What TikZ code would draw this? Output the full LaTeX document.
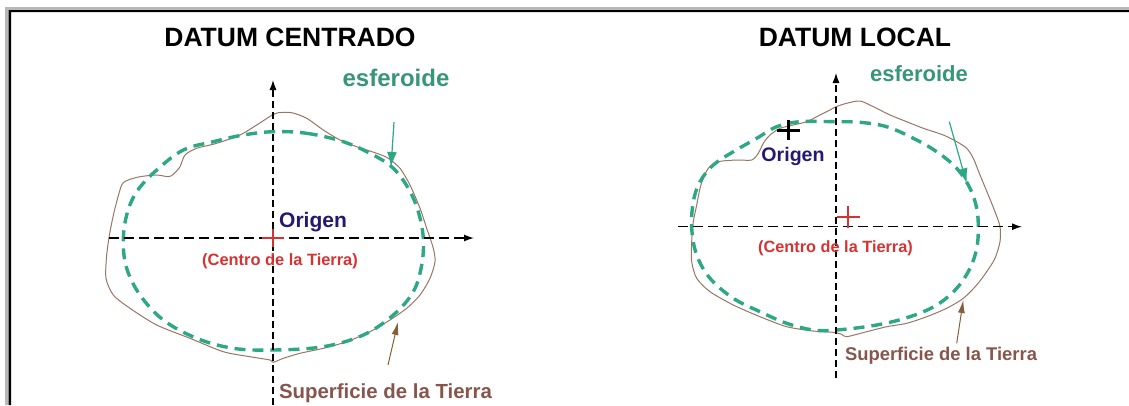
\documentclass[tikz,border=0pt]{standalone}
\usepackage{fontspec}
\setmainfont{Liberation Sans}
\usetikzlibrary{arrows.meta}
\definecolor{esfcol}{RGB}{45,168,132}
\definecolor{esftxt}{RGB}{55,150,118}
\definecolor{surfcol}{RGB}{150,118,100}
\definecolor{surftxt}{RGB}{135,85,75}
\definecolor{origcol}{RGB}{35,25,110}
\definecolor{centcol}{RGB}{215,50,50}
\newcommand{\fs}[1]{\fontsize{#1}{#1}\selectfont\bfseries}
\tikzset{
	haxis/.style = {black, line width=1.3pt, dash pattern=on 10pt off 5pt, -{Latex[length=10pt,width=7pt]}},
	vaxis/.style = {black, line width=1.1pt, dash pattern=on 7pt off 4pt, -{Latex[length=10pt,width=7pt]}},
	esfer/.style = {esfcol, line width=3.4pt, dash pattern=on 11pt off 7pt},
	surf/.style = {surfcol, line width=1pt},
	esfptr/.style = {esfcol, line width=1.2pt, -{Latex[length=15pt,width=10pt]}},
	surfptr/.style = {surftxt!80!olive, line width=1pt, -{Latex[length=13pt,width=7pt]}},
	lbl/.style = {inner sep=0pt, anchor=base}
}
\begin{document}
\begin{tikzpicture}[x=1pt,y=-1pt]
	\useasboundingbox (0,0) rectangle (1129,405);
	\fill[gray!55] (5,7) rectangle (1129,10) (5,7) rectangle (8.5,405);
	\fill[black] (8.5,10) rectangle (1129,12) (8.5,10) rectangle (11,405);

	\node[lbl] (tcent) at (290,46) {\fs{26.5}DATUM CENTRADO};
	\node[lbl] (tloc) at (855,46) {\fs{26.5}DATUM LOCAL};

	% datum centrado
	\draw[surf] plot[smooth cycle, tension=0.45] coordinates {
		(273.3,114.3) (278.3,112.7) (291.7,112.7) (306.7,118.3) (323.3,130) (340,140)
		(356.7,146.7) (376.7,153.3) (388.3,158.3) (400,168.3) (410,185) (420,208.3)
		(426.7,228.3) (433.3,248.3) (435,261.7) (430,278.3) (420,295) (406.7,308.3)
		(390,320) (370,331.7) (346.7,341.7) (323.3,348.3) (300,353.3) (283.3,358.3)
		(273.3,362.3) (270,360) (250,356.7) (223.3,351.7) (190,338.3) (156.7,325)
		(130,308.3) (113.3,295) (106,278.3) (106.7,255) (110,231.7) (115,208.3)
		(121.7,185) (128.3,180) (140,176.7) (156.7,175) (168.3,176.7) (173.3,174.3)
		(180,166.7) (185,155) (196.7,148.3) (216.7,143.3) (240,135) (256.7,125)};
	\draw[esfer] plot[smooth cycle, tension=0.6] coordinates {
		(273.3,131.7) (306.7,133.3) (343.3,141.7) (373.3,155) (393.3,168.3) (408.3,188.3)
		(418.3,211.7) (423.3,238.3) (421.7,265) (413.3,291.7) (393.3,315) (363.3,335)
		(323.3,346.7) (273.3,350) (233.3,348.3) (196.7,338.3) (163.3,320) (140,295)
		(126.7,268.3) (123.3,241.7) (126.7,215) (136.7,191.7) (156.7,170) (183.3,150)
		(213.3,141.7) (243.3,135)};
	\coordinate (oL) at (273,238);
	\coordinate (hL1) at (109,238);
	\coordinate (hL2) at (474,238);
	\coordinate (vL1) at (273,405);
	\coordinate (vL2) at (273,80);
	\draw[haxis] (hL1) -- (hL2);
	\draw[vaxis] (vL1) -- (vL2);
	\draw[centcol, line width=2pt] ([xshift=-11pt]oL) -- ([xshift=11pt]oL) ([yshift=9pt]oL) -- ([yshift=-9pt]oL);
	\node[lbl] (esfL) at (396,86.7) {\fs{24}\color{esftxt}esferoide};
	\node[lbl] (origL) at (313,227) {\fs{21}\color{origcol}Origen};
	\node[lbl] (centL) at (280,265) {\fs{16.4}\color{centcol}(Centro de la Tierra)};
	\node[lbl] (supL) at (385.5,398.3) {\fs{20.4}\color{surftxt}Superficie de la Tierra};
	\coordinate (pe1L) at (394,122);
	\coordinate (pe2L) at (391,167);
	\coordinate (ps1L) at (388,365);
	\coordinate (ps2L) at (398,322);
	\draw[esfptr] (pe1L) -- (pe2L);
	\draw[surfptr] (ps1L) -- (ps2L);

	% datum local
	\draw[surf] plot[smooth cycle, tension=0.45] coordinates {
		(836,106.7) (846.7,103.3) (860,101) (873.3,106.7) (890,115) (906.7,121.7)
		(923.3,128.3) (943.3,135) (956.7,141.7) (966.7,148.3) (973.3,158.3) (980,175)
		(988.3,195) (995,211.7) (1000,226.7) (1000,241.7) (995,258.3) (986.7,271.7)
		(976.7,285) (963.3,298.3) (946.7,308.3) (926.7,316.7) (906.7,323.3) (886.7,326.7)
		(866.7,331.7) (846.7,336.7) (841.7,334.3) (833.3,332.3) (813.3,331) (786.7,326.7)
		(760,316.7) (733.3,305) (710,291.7) (696.7,278.3) (691.7,261.7) (691.7,241.7)
		(693.3,221.7) (696.7,205) (700,188.3) (703.3,178.3) (708.3,168.3) (718.3,161.7)
		(736.7,160) (751.7,160) (758.3,153.3) (763.3,143.3) (770,135) (780,128.3)
		(793.3,125) (806.7,121.7) (820,115) (830,110)};
	\draw[esfer] plot[smooth cycle, tension=0.6] coordinates {
		(836,121.7) (860,122.3) (886.7,126.7) (913.3,138.3) (936.7,151.7) (956.7,168.3)
		(970,188.3) (976.7,208.3) (978.3,228.3) (976.7,248.3) (970,268.3) (956.7,288.3)
		(936.7,305) (910,316.7) (876.7,325) (836.7,330) (813.3,330) (786.7,323.3)
		(760,311.7) (733.3,298.3) (710,278.3) (696.7,255) (691.7,228.3) (693.3,201.7)
		(700,181.7) (713.3,165) (733.3,151.7) (756.7,138.3) (776.7,126.7) (800,121.7)};
	\coordinate (oR) at (836,226.7);
	\coordinate (cR) at (848.3,216.7);
	\coordinate (xR) at (788.3,130);
	\coordinate (hR1) at (678,226.7);
	\coordinate (hR2) at (1022,226.7);
	\coordinate (vR1) at (836,378);
	\coordinate (vR2) at (836,73);
	\draw[haxis] (hR1) -- (hR2);
	\draw[vaxis] (vR1) -- (vR2);
	\draw[centcol, line width=2pt] ([xshift=-11.5pt]cR) -- ([xshift=11.5pt]cR) ([yshift=11pt]cR) -- ([yshift=-11pt]cR);
	\draw[black, line width=3pt] ([xshift=-11.5pt]xR) -- ([xshift=11.5pt]xR) ([yshift=10pt]xR) -- ([yshift=-10pt]xR);
	\node[lbl] (esfR) at (919,81.7) {\fs{22}\color{esftxt}esferoide};
	\node[lbl] (origR) at (793,161.7) {\fs{19.6}\color{origcol}Origen};
	\node[lbl] (centR) at (835.5,252.3) {\fs{16.3}\color{centcol}(Centro de la Tierra)};
	\node[lbl] (supR) at (941,360) {\fs{18.4}\color{surftxt}Superficie de la Tierra};
	\coordinate (pe1R) at (949.3,121.7);
	\coordinate (pe2R) at (966.7,183.3);
	\coordinate (ps1R) at (956.7,343.3);
	\coordinate (ps2R) at (963.3,300);
	\draw[esfptr] (pe1R) -- (pe2R);
	\draw[surfptr] (ps1R) -- (ps2R);
\end{tikzpicture}
\end{document}
